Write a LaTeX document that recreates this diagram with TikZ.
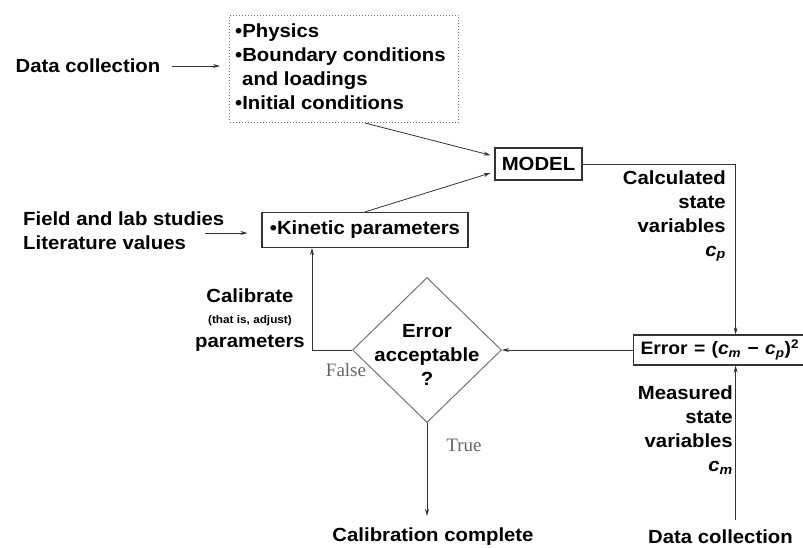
\documentclass[tikz,border=0pt]{standalone}
\usepackage{fontspec}
\usetikzlibrary{shapes.geometric,arrows.meta}
\newfontfamily\labfont{Liberation Sans}[FakeStretch=1.07]
\newfontfamily\serfont{Liberation Serif}
\newcommand\labtxt{\labfont\fontsize{19}{24}\selectfont\bfseries}
\newcommand\notetxt{\serfont\fontsize{19}{24}\selectfont}
\begin{document}
\begin{tikzpicture}
    [x=1pt, y=-1pt,
    box/.style={rectangle, draw=black!80, line width=1.2pt, font=\labtxt, inner sep=0pt},
    dotbox/.style={rectangle, draw=black!55, dotted, line width=1pt},
    decbox/.style={diamond, draw=black!55, line width=1pt, inner sep=0pt},
    lbl/.style={font=\labtxt, inner sep=0pt},
    note/.style={font=\notetxt, text=black!60, inner sep=0pt},
    arr/.style={-{Stealth[length=7pt,width=4pt]}, draw=black!80, line width=0.8pt}]

    \useasboundingbox (0,0) rectangle (803,548);

    \node[lbl] (dtop) at (88,66) {Data collection};
    \node[dotbox, minimum width=229pt, minimum height=107pt, anchor=north west] (phys) at (229,15) {};
    \node[lbl, align=left, anchor=north west] (physlist) at (235,24) {•Physics\\•Boundary conditions\\\hspace{7pt}and loadings\\•Initial conditions};
    \node[box, minimum width=87pt, minimum height=32pt] (model) at (538.5,164) {MODEL};
    \node[box, minimum width=206pt, minimum height=35pt] (kin) at (365,230) {•Kinetic parameters};
    \node[lbl, align=left, anchor=west] (field) at (23,231) {Field and lab studies\\Literature values};
    \coordinate (fs) at (205,233);

    \node[decbox, minimum width=149pt, minimum height=145pt] (dec) at (427,350) {};
    \node[lbl, align=center] (dectext) at (427,355) {Error\\acceptable\\?};
    \node[box, text width=190pt, minimum height=30pt, align=left, anchor=west, inner xsep=7pt] (err) at (633,350)
        {\fontsize{18}{24}\selectfont Error = (\textit{c}\textsubscript{\textit{m}} − \textit{c}\textsubscript{\textit{p}})\textsuperscript{2}};

    \node[lbl, align=right, anchor=east] (calc) at (726,216) {Calculated\\state\\variables\\\textit{c}\textsubscript{\textit{p}}};
    \node[lbl, align=right, anchor=east] (meas) at (733,430) {Measured\\state\\variables\\\textit{c}\textsubscript{\textit{m}}};
    \node[lbl, align=center, inner xsep=7pt, anchor=east] (calib) at (312,320)
        {Calibrate\\[-3pt]{\fontsize{11}{13}\selectfont (that is, adjust)}\\parameters};

    \node[lbl] (done) at (433,537) {Calibration complete};
    \node[lbl, anchor=west] (dbot) at (648,537) {Data collection};
    \node[note] (no) at (346,370) {False};
    \node[note] (yes) at (464,445) {True};

    \draw[arr, shorten <=11pt, shorten >=9pt] (dtop.east) -- (dtop.east -| phys.west);
    \draw[arr, shorten >=4pt] (phys.south -| kin.north) -- (model.170);
    \draw[arr, shorten >=4pt] (kin.north) -- (model.190);
    \draw[arr, shorten >=14pt] (fs) -- (fs -| kin.west);
    \draw[arr] (model.east) -| (err.north);
    \draw[arr] (err.west) -- (dec.east);
    \draw[arr] (dec.west) -| (calib.east |- kin.south);
    \draw[arr, shorten >=12pt] (dec.south) -- (dec.south |- done.north);
    \draw[arr, shorten <=10pt] (err.south |- dbot.north) -- (err.south);

\end{tikzpicture}
\end{document}
